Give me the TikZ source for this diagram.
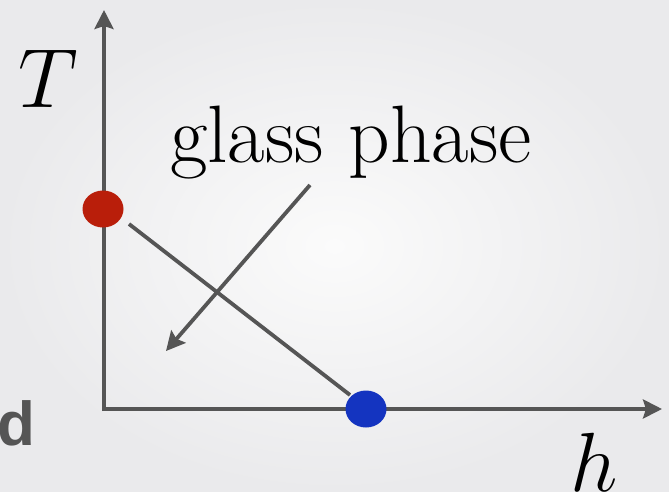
\RequirePackage{fix-cm}
\documentclass[tikz,border=0pt]{standalone}
\usepackage{fontspec}
\newfontfamily\helv{Liberation Sans}
\usetikzlibrary{arrows.meta,shapes.geometric}
\definecolor{axisgray}{RGB}{85,85,85}
\definecolor{dotred}{RGB}{185,30,10}
\definecolor{dotblue}{RGB}{20,52,192}
\definecolor{bgin}{RGB}{251,251,251}
\definecolor{bgout}{RGB}{234,234,236}
\tikzset{
  axis/.style={draw=axisgray, line width=3.8pt, -{Stealth[length=19pt,width=19pt,inset=3pt]}},
  plainline/.style={draw=axisgray, line width=3.8pt},
  dot/.style={ellipse, minimum width=41pt, minimum height=37pt, inner sep=0pt},
  big/.style={inner sep=0pt, font=\fontsize{84}{90}\selectfont},
}
\begin{document}
\begin{tikzpicture}[x=1pt,y=-1pt]
\shade[inner color=bgin, outer color=bgout] (0,0) rectangle (669,492);
\useasboundingbox (0,0) rectangle (669,492);
\coordinate (o) at (104,409);
\coordinate (ytop) at (104,10);
\coordinate (xend) at (662,409);
\draw[axis] (104,411) -- (ytop);
\draw[axis] (o) -- (xend);
\node[dot, fill=dotred] (red) at (103,209) {};
\node[dot, fill=dotblue] (blue) at (366,409) {};
\coordinate (l1) at (129,224);
\coordinate (l2) at (350,395);
\draw[plainline] (l1) -- (l2);
\coordinate (a1) at (310,185);
\coordinate (a2) at (166,351);
\draw[axis] (a1) -- (a2);
\node[big, anchor=base west, font=\fontsize{81.5}{90}\selectfont] (glass) at (170,162) {glass phase};
\node[big, anchor=base west] (T) at (18,108) {$T$};
\node[big, anchor=base west] (h) at (570,491) {$h$};
\node[inner sep=0pt, anchor=base east, text=axisgray, font=\helv\bfseries\fontsize{62}{70}\selectfont] (d) at (36,445) {d};
\end{tikzpicture}
\end{document}
